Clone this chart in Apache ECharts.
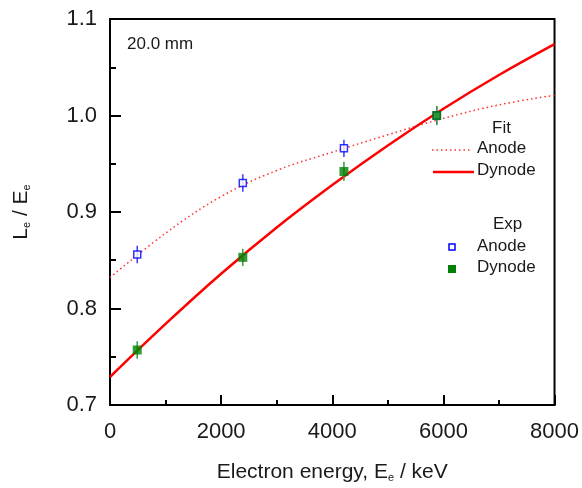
<!DOCTYPE html>
<html>
<head>
<meta charset="utf-8">
<script src="https://cdn.jsdelivr.net/npm/echarts@6/dist/echarts.min.js"></script>
<style>
  html, body { margin: 0; padding: 0; background: #fff; }
  #chart { width: 582px; height: 488px; }
</style>
</head>
<body>
<div id="chart"></div>
<script>
// experimental points
const expE = [490, 2390, 4210, 5880];
const anodeExp = [0.856, 0.930, 0.966, 1.000];
const anodeErr = [0.009, 0.009, 0.009, 0.009];
const dynodeExp = [0.757, 0.853, 0.942, 1.000];
const dynodeErr = [0.009, 0.009, 0.010, 0.010];

// fit curves
const fitE = [0, 1000, 2000, 3000, 4000, 5000, 6000, 7000, 8000];
const anodeFit = [0.832, 0.878, 0.916, 0.943, 0.962, 0.980, 0.997, 1.011, 1.021];
const dynodeFit = [0.729, 0.784, 0.836, 0.884, 0.928, 0.969, 1.007, 1.042, 1.074];

const xTicks = [0, 2000, 4000, 6000, 8000];
const yTicks = [0.7, 0.8, 0.9, 1.0, 1.1];

const font = 'Liberation Sans, Arial, sans-serif';
const txt = '#1a1a1a';

const myChart = echarts.init(document.getElementById('chart'));

const zip = (xs, ys) => xs.map((x, i) => [x, ys[i]]);
const errData = (vals, errs) => expE.map((e, i) => [e, vals[i] - errs[i], vals[i] + errs[i]]);

const errBar = (color) => (params, api) => {
  const lo = api.coord([api.value(0), api.value(1)]);
  const hi = api.coord([api.value(0), api.value(2)]);
  return {
    type: 'line',
    shape: { x1: lo[0], y1: lo[1], x2: hi[0], y2: hi[1] },
    style: { stroke: color, lineWidth: 1.5 }
  };
};

const option = {
  animation: false,
  backgroundColor: '#fff',
  textStyle: { fontFamily: font },
  grid: {
    left: 110, right: 27, top: 19, bottom: 82,
    show: true, borderColor: '#000', borderWidth: 2, backgroundColor: 'transparent'
  },
  xAxis: {
    type: 'value', min: 0, max: 8000, interval: 2000,
    name: '{a|Electron energy, E}{s|e}{a| / keV}',
    nameLocation: 'middle', nameGap: 46,
    nameTextStyle: {
      rich: {
        a: { fontSize: 21, color: txt, fontFamily: font, lineHeight: 26, verticalAlign: 'bottom' },
        s: { fontSize: 11, color: txt, fontFamily: font, lineHeight: 32, verticalAlign: 'bottom' }
      }
    },
    axisLine: { lineStyle: { color: '#000', width: 2 } },
    axisTick: { inside: true, length: 10, lineStyle: { color: '#000', width: 2 } },
    minorTick: { show: true, splitNumber: 2, length: 5, lineStyle: { color: '#000', width: 2 } },
    splitLine: { show: false },
    axisLabel: {
      margin: 16, fontSize: 22, color: txt, fontFamily: font,
      formatter: v => xTicks.includes(v) ? String(v) : ''
    }
  },
  yAxis: {
    type: 'value', min: 0.7, max: 1.1, interval: 0.1,
    name: '{a|L}{s|e}{a| / E}{s|e}',
    nameLocation: 'middle', nameGap: 78, nameRotate: 90,
    nameTextStyle: {
      rich: {
        a: { fontSize: 21, color: txt, fontFamily: font, lineHeight: 26, verticalAlign: 'bottom' },
        s: { fontSize: 11, color: txt, fontFamily: font, lineHeight: 32, verticalAlign: 'bottom' }
      }
    },
    axisLine: { lineStyle: { color: '#000', width: 2 } },
    axisTick: { inside: true, length: 11, lineStyle: { color: '#000', width: 2 } },
    minorTick: { show: true, splitNumber: 2, length: 6, lineStyle: { color: '#000', width: 2 } },
    splitLine: { show: false },
    axisLabel: {
      margin: 13, fontSize: 22, color: txt, fontFamily: font,
      formatter: v => {
        const t = yTicks.find(y => Math.abs(y - v) < 1e-6);
        return t === undefined ? '' : t.toFixed(1);
      }
    }
  },
  graphic: [
    { type: 'text', left: 127, top: 36, style: { text: '20.0 mm', fontSize: 17, fill: txt, fontFamily: font } },
    { type: 'text', left: 492, top: 120, style: { text: 'Fit', fontSize: 17, fill: txt, fontFamily: font } },
    { type: 'line', shape: { x1: 432, y1: 150, x2: 472, y2: 150 },
      style: { stroke: '#ff3030', lineWidth: 1.5, lineDash: [1.5, 3] } },
    { type: 'text', left: 477, top: 140, style: { text: 'Anode', fontSize: 17, fill: txt, fontFamily: font } },
    { type: 'line', shape: { x1: 433, y1: 172, x2: 474, y2: 172 },
      style: { stroke: '#ff0000', lineWidth: 2.5 } },
    { type: 'text', left: 477, top: 162, style: { text: 'Dynode', fontSize: 17, fill: txt, fontFamily: font } },
    { type: 'text', left: 493, top: 216, style: { text: 'Exp', fontSize: 17, fill: txt, fontFamily: font } },
    { type: 'rect', shape: { x: 449, y: 244, width: 6, height: 6 },
      style: { fill: '#fff', stroke: '#0000ff', lineWidth: 1.5 } },
    { type: 'text', left: 477, top: 238, style: { text: 'Anode', fontSize: 17, fill: txt, fontFamily: font } },
    { type: 'rect', shape: { x: 448, y: 265, width: 8, height: 8 },
      style: { fill: '#008000' } },
    { type: 'text', left: 477, top: 259, style: { text: 'Dynode', fontSize: 17, fill: txt, fontFamily: font } }
  ],
  series: [
    {
      name: 'Anode fit', type: 'line', data: zip(fitE, anodeFit), smooth: 0.4,
      symbol: 'none', lineStyle: { color: '#ff3030', width: 1.5, type: [1.5, 3] }, z: 2
    },
    {
      name: 'Dynode fit', type: 'line', data: zip(fitE, dynodeFit), smooth: 0.4,
      symbol: 'none', lineStyle: { color: '#ff0000', width: 2.5 }, z: 2
    },
    {
      name: 'Anode err', type: 'custom', data: errData(anodeExp, anodeErr),
      encode: { x: 0, y: [1, 2] }, renderItem: errBar('#3b3bff'), z: 3
    },
    {
      name: 'Dynode err', type: 'custom', data: errData(dynodeExp, dynodeErr),
      encode: { x: 0, y: [1, 2] }, renderItem: errBar('#3a9a3a'), z: 3
    },
    {
      name: 'Anode', type: 'scatter', data: zip(expE, anodeExp),
      symbol: 'rect', symbolSize: 7,
      itemStyle: { color: '#fff', borderColor: '#0000ff', borderWidth: 1.5 }, z: 4
    },
    {
      name: 'Dynode', type: 'scatter', data: zip(expE, dynodeExp),
      symbol: 'rect', symbolSize: 9,
      itemStyle: { color: '#008000' }, z: 5
    }
  ]
};

myChart.setOption(option);
</script>
</body>
</html>
